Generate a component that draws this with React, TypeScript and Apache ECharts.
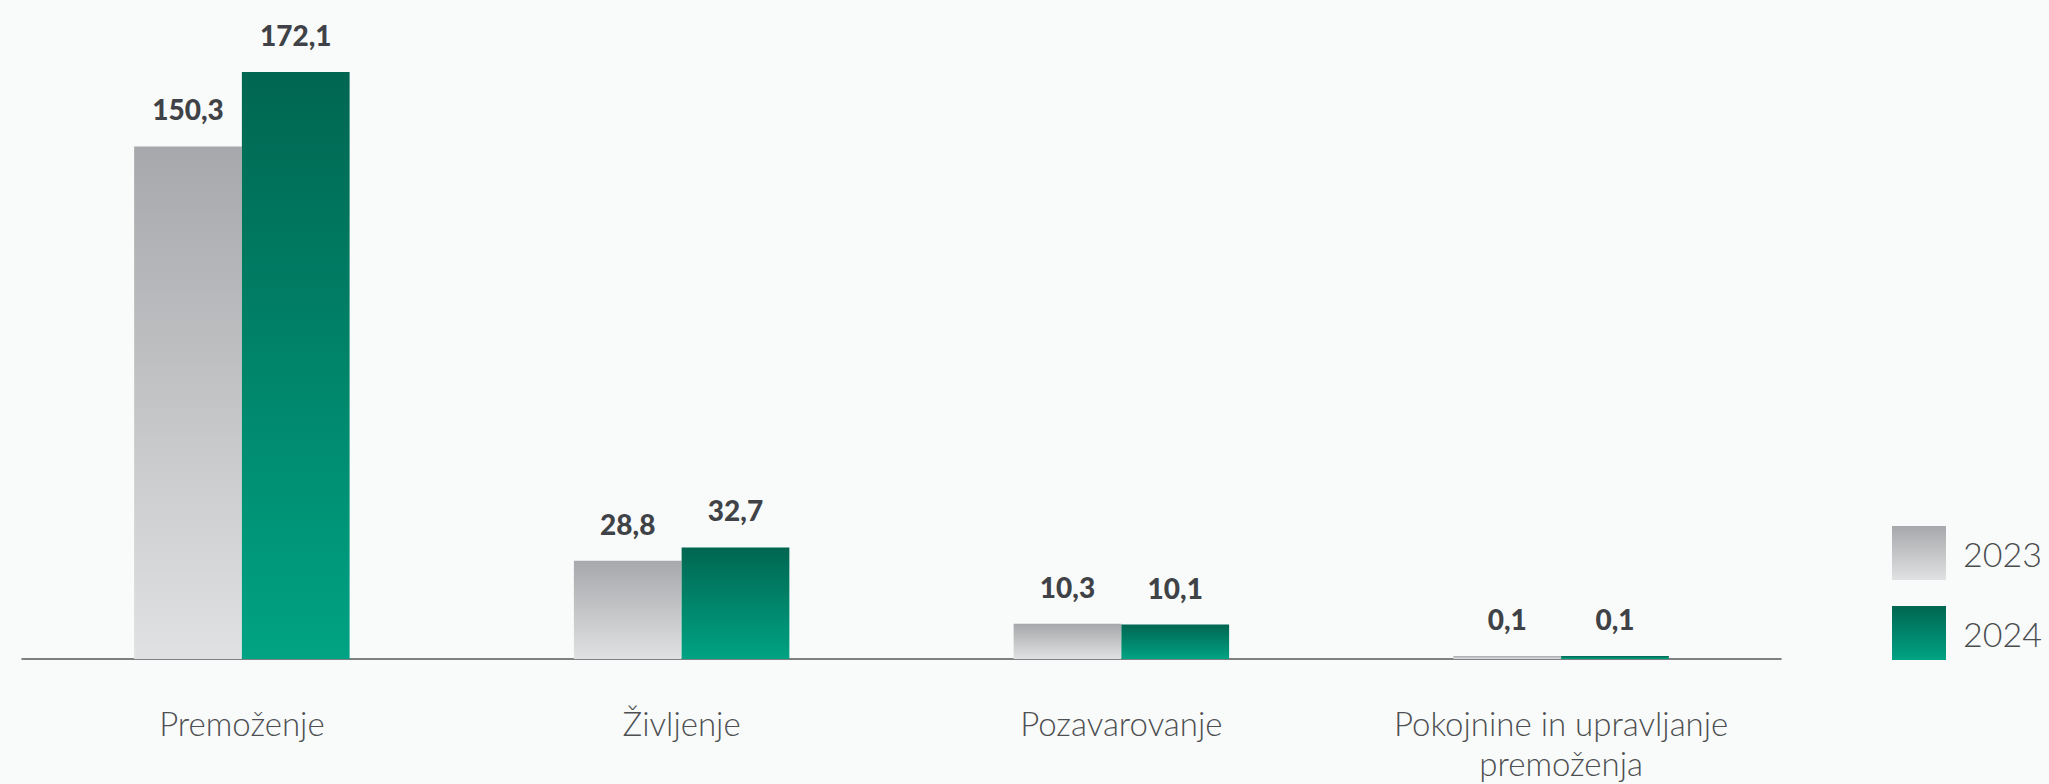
import React, { useEffect, useRef } from "react";
import * as echarts from "echarts";

const categories = [
  "Premoženje",
  "Življenje",
  "Pozavarovanje",
  "Pokojnine in upravljanje\npremoženja",
];
const values2023 = [150.3, 28.8, 10.3, 0.1];
const values2024 = [172.1, 32.7, 10.1, 0.1];
const seriesNames = ["2023", "2024"];

const grayGradient = () =>
  new echarts.graphic.LinearGradient(0, 0, 0, 1, [
    { offset: 0, color: "#a6a8ab" },
    { offset: 1, color: "#e0e1e2" },
  ]);
const greenGradient = () =>
  new echarts.graphic.LinearGradient(0, 0, 0, 1, [
    { offset: 0, color: "#006651" },
    { offset: 1, color: "#00a383" },
  ]);

const fmt = (v: number) => v.toFixed(1).replace(".", ",");

export default function App() {
  const ref = useRef<HTMLDivElement>(null);
  useEffect(() => {
    if (!ref.current) return;
    const chart = echarts.init(ref.current, undefined, { renderer: "svg" });
    const label = {
      show: true,
      position: "top" as const,
      distance: 23,
      formatter: (p: any) => fmt(p.value),
      fontFamily: "Lato",
      fontWeight: 900,
      fontSize: 28,
      color: "#3f4246",
    };
    chart.setOption({
      animation: false,
      backgroundColor: "#f9fbfa",
      grid: { left: 22, right: 268, top: 11, bottom: 125, containLabel: false },
      legend: {
        orient: "vertical",
        left: 1887,
        top: 518,
        itemWidth: 54,
        itemHeight: 54,
        itemGap: 20,
        icon: "rect",
        data: seriesNames,
        textStyle: {
          fontFamily: "Lato",
          fontWeight: 300,
          fontSize: 34,
          lineHeight: 36,
          color: "#4a4d50",
          padding: [24, 0, 0, 12],
        },
      },
      xAxis: {
        type: "category",
        data: categories,
        axisLine: { show: true, lineStyle: { color: "#555759", width: 1.5 } },
        axisTick: { show: false },
        axisLabel: {
          margin: 44,
          fontFamily: "Lato",
          fontWeight: 300,
          fontSize: 33,
          lineHeight: 40,
          color: "#4d4f52",
          interval: 0,
        },
      },
      yAxis: {
        type: "value",
        min: 0,
        max: 190,
        show: false,
        splitLine: { show: false },
      },
      series: [
        {
          name: seriesNames[0],
          type: "bar",
          data: values2023,
          barGap: "0%",
          barCategoryGap: "51%",
          barMinHeight: 3,
          itemStyle: { color: grayGradient() },
          label,
        },
        {
          name: seriesNames[1],
          type: "bar",
          data: values2024,
          barGap: "0%",
          barCategoryGap: "51%",
          barMinHeight: 3,
          itemStyle: { color: greenGradient() },
          label,
        },
      ],
    });
    return () => chart.dispose();
  }, []);
  return (
    <div
      ref={ref}
      style={{ position: "absolute", left: 0, top: 0, width: 2049, height: 784 }}
    />
  );
}
